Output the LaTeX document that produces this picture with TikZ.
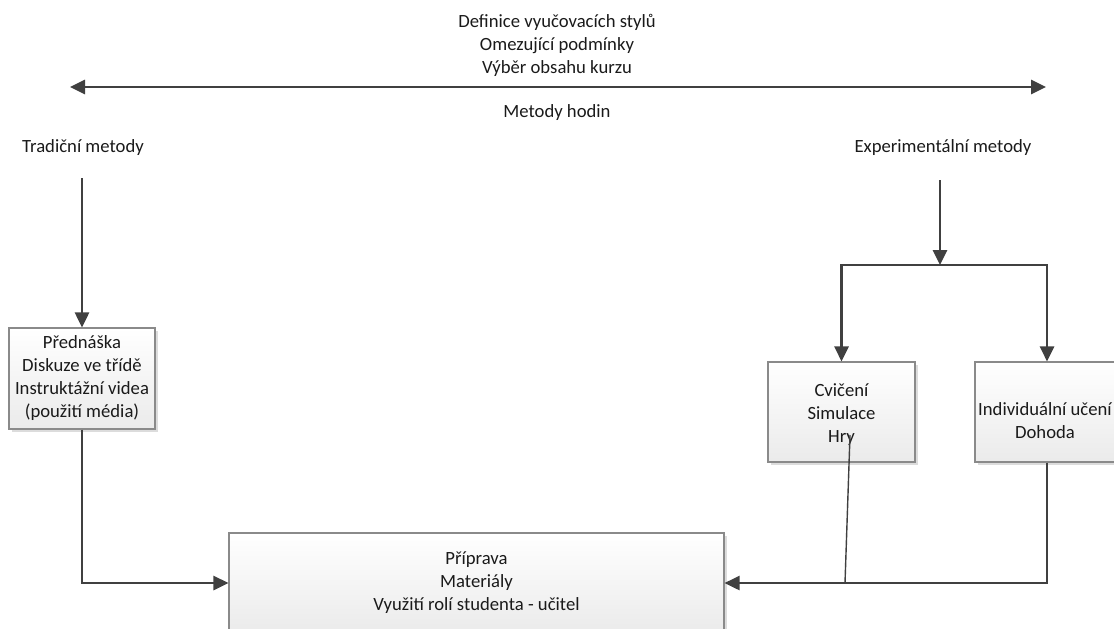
\documentclass[tikz,border=0pt]{standalone}
\usepackage{fontspec}
\setmainfont{Carlito}
\usetikzlibrary{arrows.meta,shadows}
\definecolor{linec}{HTML}{404040}
\definecolor{boxborder}{HTML}{8A8A8A}
\definecolor{txtc}{HTML}{1A1A1A}
\newcommand{\dgfont}{\fontsize{18.67}{23}\selectfont}
\tikzset{
  >={Triangle[length=15pt,width=14pt]},
  conn/.style={draw=linec, line width=2.7pt, ->},
  dconn/.style={draw=linec, line width=2.7pt, <->},
  plainconn/.style={draw=linec, line width=2.7pt, line cap=rect},
  thinconn/.style={draw=linec, line width=1.4pt},
  box/.style={draw=boxborder, line width=1.1pt, top color=white, bottom color=black!8,
    drop shadow={shadow xshift=3pt,shadow yshift=-3pt,fill=black!30,opacity=0.45},
    align=center, inner sep=0pt, font=\dgfont, text=txtc},
  lbl/.style={align=center, font=\dgfont, inner sep=0pt, text=txtc}
}
\begin{document}
\begin{tikzpicture}[x=1pt,y=-1pt]
\useasboundingbox (0,0) rectangle (1114,629);
% labels
\node[lbl] (top) at (557,45) {Definice vyučovacích stylů\\Omezující podmínky\\Výběr obsahu kurzu};
\node[lbl] (metody) at (557,113) {Metody hodin};
\node[lbl] (trad) at (83,148) {Tradiční metody};
\node[lbl] (exper) at (943,148) {Experimentální metody};
% boxes
\node[box, minimum width=146pt, minimum height=101pt] (lbox) at (82,378.5)
  {Přednáška\\Diskuze ve třídě\\Instruktážní videa\\(použití média)};
\node[box, minimum width=147pt, minimum height=100pt] (cbox) at (841.5,412) {};
\node[lbl] (ctext) at (841.5,415) {Cvičení\\Simulace\\Hry};
\node[box, minimum width=144pt, minimum height=100pt] (ibox) at (1047,412) {};
\node[lbl] (itext) at (1045,421) {Individuální učení\\Dohoda};
\node[box, minimum width=495pt, minimum height=100pt] (pbox) at (476.5,583)
  {Příprava\\Materiály\\Využití rolí studenta - učitel};
% coordinates
\coordinate (aL) at (70,87);
\coordinate (aR) at (1046,87);
\coordinate (l0) at (82,178);
\coordinate (r0) at (940,180);
\coordinate (rj) at (940,265);
\coordinate (rl) at (841.5,265);
\coordinate (rr) at (1047,265);
\coordinate (h0) at (850,435);
\coordinate (h1) at (845,583);
% connectors
\draw[dconn] (aL) -- (aR);
\draw[conn] (l0) -- (lbox.north);
\draw[conn] (r0) -- (rj);
\draw[plainconn] (rl) -- (rr);
\draw[conn] (rl) -- (cbox.north);
\draw[conn] (rr) -- (ibox.north);
\draw[conn] (lbox.south) |- (pbox.west);
\draw[conn] (ibox.south) |- (pbox.east);
\draw[thinconn] (h0) -- (h1);
\end{tikzpicture}
\end{document}
